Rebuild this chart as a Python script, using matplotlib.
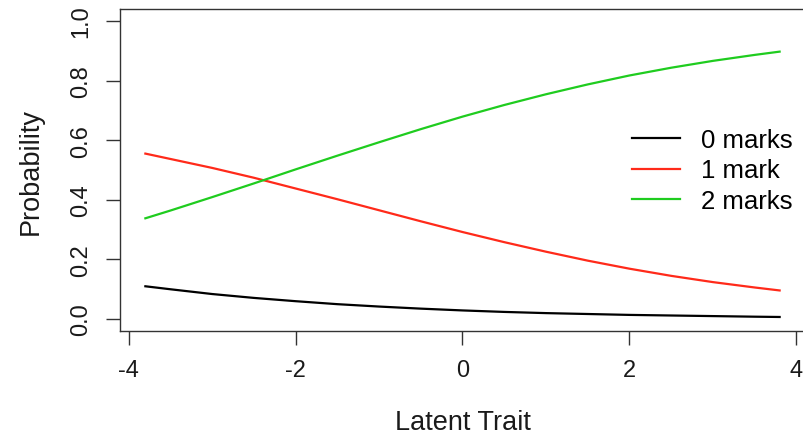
import matplotlib
matplotlib.use("Agg")
from matplotlib import pyplot as plt

plt.rcParams['font.family'] = ['Liberation Sans', 'DejaVu Sans']
plt.rcParams['axes.unicode_minus'] = False

# values
theta = [-3.8, -3.5, -3.0, -2.5, -2.0, -1.5, -1.0, -0.5, 0.0,
         0.5, 1.0, 1.5, 2.0, 2.5, 3.0, 3.5, 3.8]
p_0marks = [0.110, 0.100, 0.084, 0.071, 0.060, 0.050, 0.042, 0.035, 0.029,
            0.024, 0.020, 0.017, 0.014, 0.012, 0.010, 0.008, 0.007]
p_1mark = [0.555, 0.537, 0.507, 0.474, 0.438, 0.402, 0.365, 0.328, 0.292,
           0.258, 0.226, 0.196, 0.169, 0.145, 0.124, 0.106, 0.096]
p_2marks = [0.338, 0.364, 0.409, 0.455, 0.502, 0.548, 0.593, 0.637, 0.679,
            0.718, 0.754, 0.787, 0.817, 0.843, 0.866, 0.886, 0.897]
labels = ["0 marks", "1 mark", "2 marks"]
colours = ["#000000", "#ff2a1a", "#1fcc1f"]
x_ticks = [-4, -2, 0, 2, 4]
y_ticks = [0.0, 0.2, 0.4, 0.6, 0.8, 1.0]

fig = plt.figure(figsize=(8.04, 4.35), dpi=100)
ax = fig.add_axes([120 / 804, 1 - 332 / 435, 685 / 804, 322 / 435])

for ys, lab, col in zip([p_0marks, p_1mark, p_2marks], labels, colours):
    ax.plot(theta, ys, color=col, lw=1.6, label=lab)

ax.set_xlim(-4.104, 4.104)
ax.set_ylim(-0.04, 1.04)
ax.set_xticks(x_ticks)
ax.set_xticklabels([str(t) for t in x_ticks])
ax.set_yticks(y_ticks)
ax.set_yticklabels(["%.1f" % t for t in y_ticks], rotation=90, va='center')

for s in ax.spines.values():
    s.set_color("#333333")
    s.set_linewidth(1.0)
ax.tick_params(length=10, width=1.0, color="#333333", labelsize=17,
               pad=10, labelcolor="#1a1a1a")

ax.set_xlabel("Latent Trait", fontsize=19.5, color="#1a1a1a", labelpad=20)
ax.set_ylabel("Probability", fontsize=19.5, color="#1a1a1a", labelpad=19)

fig.legend(loc='center left', bbox_to_anchor=(632 / 804, 1 - 171.5 / 435),
           frameon=False, fontsize=18.5, handlelength=1.85, handletextpad=0.85,
           labelspacing=0.26, borderpad=0, borderaxespad=0)

fig.savefig("out.png", dpi=100)
